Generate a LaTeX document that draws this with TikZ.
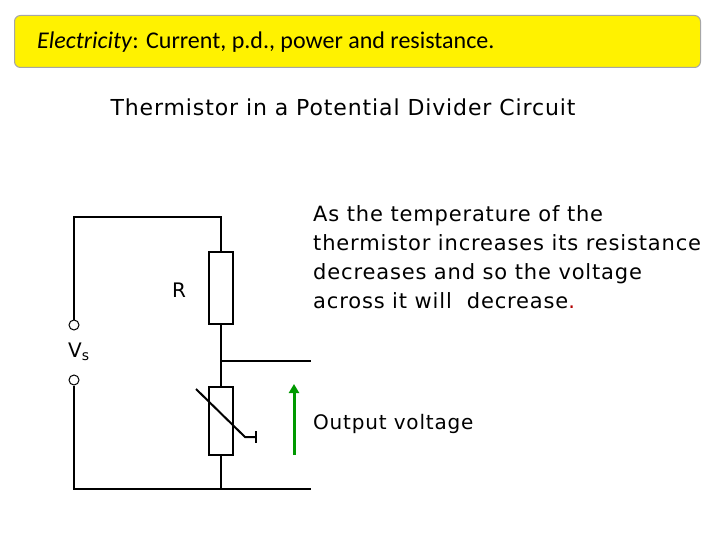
\documentclass[tikz,border=0pt]{standalone}
\usetikzlibrary{arrows.meta}
\usepackage{fontspec}
\setmainfont{Carlito}
\newfontfamily\cfont[LetterSpace=4]{DejaVu Sans}
\begin{document}
\begin{tikzpicture}[x=1pt,y=-1pt,
 wire/.style={line width=2pt,black},
 term/.style={circle,draw,line width=1pt,inner sep=0pt,minimum size=10pt,fill=white},
 res/.style={draw,line width=2pt,minimum width=24pt,minimum height=72pt,inner sep=0pt},
 lbl/.style={font=\cfont\fontsize{20}{22}\selectfont,anchor=west,inner sep=0pt}]
\useasboundingbox (0,0) rectangle (720,540);
\node[draw=gray!70,fill=yellow,rounded corners=6pt,minimum width=686pt,minimum height=52pt,anchor=north west,line width=1pt] (tb) at (14,15) {};
\node[anchor=west,inner sep=0pt,font=\fontsize{24}{28}\selectfont] (tt) at (37,42) {\textit{Electricity}: Current, p.d., power and resistance.};
\node[font=\cfont\fontsize{22}{25}\selectfont] (hd) at (343,107) {Thermistor in a Potential Divider Circuit};
\node[res] (R) at (221,288) {};
\node[res,minimum height=68pt] (T) at (221,421) {};
\node[term] (t1) at (74,325) {};
\node[term] (t2) at (74,380) {};
\coordinate (tl) at (74,217); \coordinate (tr) at (221,217);
\coordinate (bl) at (74,489); \coordinate (br) at (311,489); \coordinate (bm) at (221,489);
\coordinate (mid) at (221,361); \coordinate (out) at (311,361);
\draw[wire] (t1.north) -- (tl) -- (tr) -- (R.north);
\draw[wire] (R.south) -- (T.north);
\draw[wire] (T.south) -- (bm);
\draw[wire] (t2.south) -- (bl) -- (br);
\draw[wire] (mid) -- (out);
\coordinate (d1) at (196,389); \coordinate (d2) at (245,437); \coordinate (d3) at (256,437);
\coordinate (k1) at (256,431); \coordinate (k2) at (256,443);
\draw[line width=2pt] (d1) -- (d2) -- (d3);
\draw[line width=2pt] (k1) -- (k2);
\coordinate (a1) at (294,455); \coordinate (a2) at (294,384);
\draw[line width=3pt,green!60!black,-{Triangle[length=9pt,width=10pt]}] (a1) -- (a2);
\node[lbl] (rl) at (172,290) {R};
\node[lbl] (vs) at (68,352) {V\textsubscript{s}};
\node[lbl,anchor=north west,align=left,font=\cfont\fontsize{21}{29}\selectfont] (para) at (313,205) {As the temperature of the\\thermistor increases its resistance\\decreases and so the voltage\\across it will\ \ decrease{\color{red!70!black}.}};
\node[lbl] (ov) at (313,424) {Output voltage};
\end{tikzpicture}
\end{document}
